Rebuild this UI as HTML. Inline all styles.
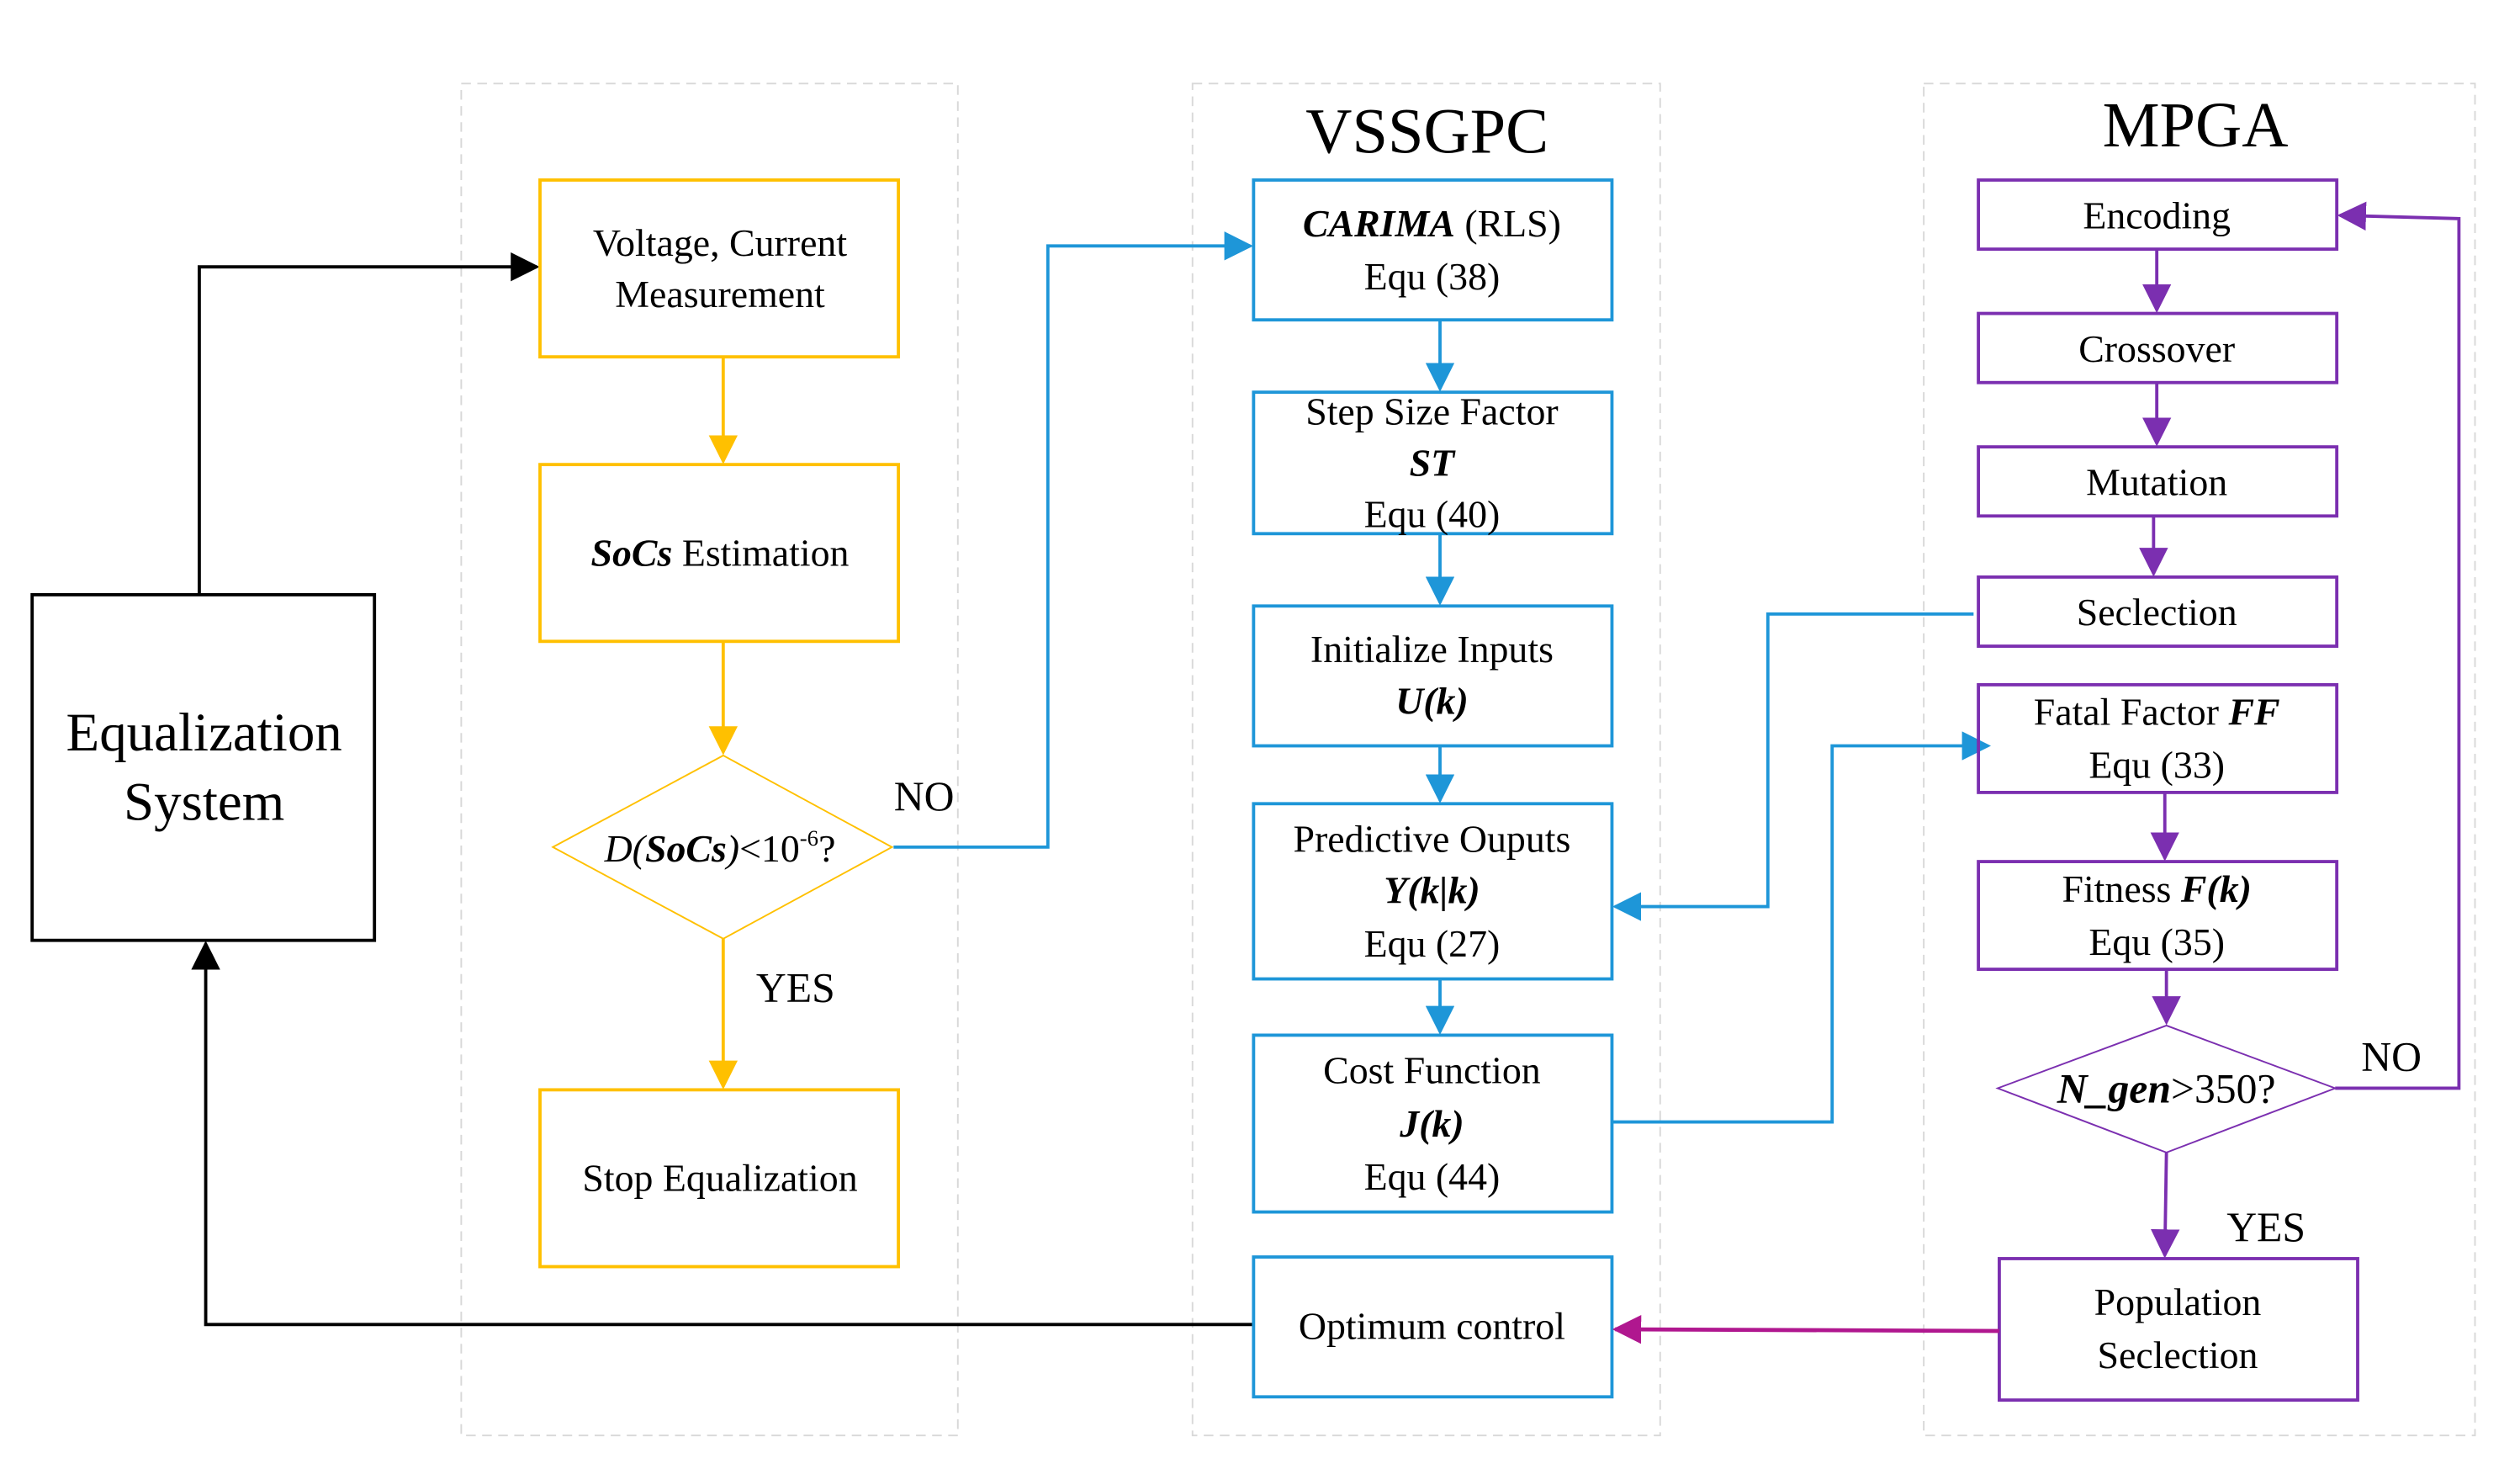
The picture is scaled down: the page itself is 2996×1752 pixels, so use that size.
<!DOCTYPE html>
<html><head><meta charset="utf-8"><style>html,body{margin:0;padding:0;background:#fff}svg{display:block}</style></head><body>
<svg width="2996" height="1752" viewBox="0 0 1568 917" preserveAspectRatio="none" xmlns="http://www.w3.org/2000/svg" font-family="Liberation Serif, serif">
<defs>
<marker id="ay" viewBox="0 0 10 10" markerWidth="18" markerHeight="18" refX="9" refY="5" orient="auto" markerUnits="userSpaceOnUse"><path d="M0,0 L10,5 L0,10 Z" fill="#FFC000"/></marker>
<marker id="ab" viewBox="0 0 10 10" markerWidth="18" markerHeight="18" refX="9" refY="5" orient="auto" markerUnits="userSpaceOnUse"><path d="M0,0 L10,5 L0,10 Z" fill="#1E96D8"/></marker>
<marker id="ap" viewBox="0 0 10 10" markerWidth="18" markerHeight="18" refX="9" refY="5" orient="auto" markerUnits="userSpaceOnUse"><path d="M0,0 L10,5 L0,10 Z" fill="#7B2FB0"/></marker>
<marker id="am" viewBox="0 0 10 10" markerWidth="18" markerHeight="18" refX="9" refY="5" orient="auto" markerUnits="userSpaceOnUse"><path d="M0,0 L10,5 L0,10 Z" fill="#B0178F"/></marker>
<marker id="ak2" viewBox="0 0 10 10" markerWidth="18" markerHeight="18" refX="9" refY="5" orient="auto" markerUnits="userSpaceOnUse"><path d="M0,0 L10,5 L0,10 Z" fill="#000"/></marker>
</defs>
<g fill="none" stroke="#d8d8d8" stroke-dasharray="6,4" stroke-width="1">
<rect x="287" y="52" width="309" height="841"/><rect x="742" y="52" width="291" height="841"/><rect x="1197" y="52" width="343" height="841"/>
</g>
<g font-size="40" text-anchor="middle"><text x="888" y="95">VSSGPC</text><text x="1366" y="91">MPGA</text></g>
<rect x="20" y="370" width="213" height="215" fill="none" stroke="#000" stroke-width="2"/>
<g font-size="34" text-anchor="middle"><text x="127" y="467">Equalization</text><text x="127" y="510">System</text></g>
<path d="M124,370 V166 H334" fill="none" stroke="#000" stroke-width="2" marker-end="url(#ak2)"/>
<path d="M780,824 H128 V587" fill="none" stroke="#000" stroke-width="2" marker-end="url(#ak2)"/>
<g fill="none" stroke="#FFC000" stroke-width="2">
<rect x="336" y="112" width="223" height="110"/><rect x="336" y="289" width="223" height="110"/><rect x="336" y="678" width="223" height="110"/>
<path d="M344,527 L450,470 L555,527 L450,584 Z" stroke-width="1"/>
<path d="M450,222 V287" marker-end="url(#ay)"/><path d="M450,399 V468" marker-end="url(#ay)"/><path d="M450,584 V676" marker-end="url(#ay)"/>
</g>
<g font-size="24" text-anchor="middle">
<text x="448" y="159">Voltage,  Current</text><text x="448" y="191">Measurement</text>
<text x="448" y="352"><tspan font-weight="bold" font-style="italic">SoCs</tspan> Estimation</text>
<text x="448" y="536"><tspan font-style="italic">D(</tspan><tspan font-weight="bold" font-style="italic">SoCs</tspan><tspan font-style="italic">)</tspan>&lt;10<tspan font-size="14" dy="-10">-6</tspan><tspan dy="10">?</tspan></text>
<text x="448" y="741">Stop Equalization</text>
<text x="575" y="504" font-size="26">NO</text><text x="495" y="623" font-size="26">YES</text>
</g>
<g fill="none" stroke="#1E96D8" stroke-width="2">
<rect x="780" y="112" width="223" height="87"/><rect x="780" y="244" width="223" height="88"/><rect x="780" y="377" width="223" height="87"/>
<rect x="780" y="500" width="223" height="109"/><rect x="780" y="644" width="223" height="110"/><rect x="780" y="782" width="223" height="87"/>
<path d="M556,527 H652 V153 H778" marker-end="url(#ab)"/>
<path d="M896,199 V242" marker-end="url(#ab)"/><path d="M896,332 V375" marker-end="url(#ab)"/><path d="M896,464 V498" marker-end="url(#ab)"/><path d="M896,609 V642" marker-end="url(#ab)"/>
<path d="M1228,382 H1100 V564 H1005" marker-end="url(#ab)"/>
<path d="M1003,698 H1140 V464 H1237" marker-end="url(#ab)"/>
</g>
<g font-size="24" text-anchor="middle">
<text x="891" y="147"><tspan font-weight="bold" font-style="italic">CARIMA</tspan> (RLS)</text><text x="891" y="180">Equ (38)</text>
<text x="891" y="264">Step Size Factor</text><text x="891" y="296" font-weight="bold" font-style="italic">ST</text><text x="891" y="328">Equ (40)</text>
<text x="891" y="412">Initialize Inputs</text><text x="891" y="444" font-weight="bold" font-style="italic">U(k)</text>
<text x="891" y="530">Predictive Ouputs</text><text x="891" y="562" font-weight="bold" font-style="italic">Y(k|k)</text><text x="891" y="595">Equ (27)</text>
<text x="891" y="674">Cost Function</text><text x="891" y="707" font-weight="bold" font-style="italic">J(k)</text><text x="891" y="740">Equ (44)</text>
<text x="891" y="833">Optimum control</text>
</g>
<g fill="none" stroke="#7B2FB0" stroke-width="2">
<rect x="1231" y="112" width="223" height="43"/><rect x="1231" y="195" width="223" height="43"/><rect x="1231" y="278" width="223" height="43"/>
<rect x="1231" y="359" width="223" height="43"/><rect x="1231" y="426" width="223" height="67"/><rect x="1231" y="536" width="223" height="67"/>
<rect x="1244" y="783" width="223" height="88"/>
<path d="M1243,677 L1348,638 L1453,677 L1348,717 Z" stroke-width="1"/>
<path d="M1342,155 V193" marker-end="url(#ap)"/><path d="M1342,238 V276" marker-end="url(#ap)"/><path d="M1340,321 V357" marker-end="url(#ap)"/>
<path d="M1347,493 V534" marker-end="url(#ap)"/><path d="M1348,603 V636" marker-end="url(#ap)"/><path d="M1348,717 L1347,781" marker-end="url(#ap)"/>
<path d="M1453,677 H1530 V136 L1456,134" marker-end="url(#ap)"/>
</g>
<path d="M1244,828 L1005,827" fill="none" stroke="#B0178F" stroke-width="2.5" marker-end="url(#am)"/>
<g font-size="24" text-anchor="middle">
<text x="1342" y="142">Encoding</text><text x="1342" y="225">Crossover</text><text x="1342" y="308">Mutation</text><text x="1342" y="389">Seclection</text>
<text x="1342" y="451">Fatal Factor <tspan font-weight="bold" font-style="italic">FF</tspan></text><text x="1342" y="484">Equ (33)</text>
<text x="1342" y="561">Fitness  <tspan font-weight="bold" font-style="italic">F(k)</tspan></text><text x="1342" y="594">Equ (35)</text>
<text x="1348" y="686" font-size="26"><tspan font-weight="bold" font-style="italic">N_gen</tspan>&gt;350?</text>
<text x="1355" y="818">Population</text><text x="1355" y="851">Seclection</text>
<text x="1488" y="666" font-size="26">NO</text><text x="1410" y="772" font-size="26">YES</text>
</g>
</svg>
</body></html>
